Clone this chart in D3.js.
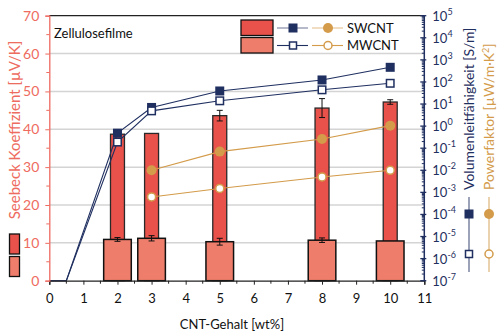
<!DOCTYPE html>
<html><head><meta charset="utf-8">
<script src="https://cdn.jsdelivr.net/npm/d3@7"></script>
<style>body{margin:0;background:#fff}svg{display:block}text{font-family:Lato,"Open Sans",sans-serif}</style>
</head><body>
<script>
// ---- data ----
const seebeckX = [2, 3, 5, 8, 10];
const swcntSeebeck = [38.7, 38.9, 43.6, 45.6, 47.2];
const swcntSeebeckErr = [0, 0, 1.4, 2.5, 0.6];
const mwcntSeebeck = [10.9, 11.2, 10.3, 10.7, 10.5];
const mwcntSeebeckErr = [0.5, 0.7, 0.9, 0.6, 0];
const condX = [0, 0.5, 2, 3, 5, 8, 10];
const swcntCond = [1e-7, 1e-7, 0.48, 7, 39, 123, 460];
const mwcntCond = [1e-7, 1e-7, 0.19, 4.9, 14, 44, 87];
const pfX = [3, 5, 8, 10];
const swcntPF = [0.010, 0.07, 0.26, 1.05];
const mwcntPF = [6.2e-4, 1.5e-3, 5e-3, 0.01];
const xTicks = [0,1,2,3,4,5,6,7,8,9,10,11];
const yLeftTicks = [0,10,20,30,40,50,60,70];
const yRightExps = [-7,-6,-5,-4,-3,-2,-1,0,1,2,3,4,5];
const seriesNames = ["SWCNT", "MWCNT"];

// ---- style ----
const W = 502, H = 335;
const m = {l: 49.3, r: 424.3, t: 15.7, b: 280.7};
const RED_AX = "#ee6b60", BAR1 = "#e8524a", BAR2 = "#ef7d6b", NAVY = "#1f2f60", ORANGE = "#d39b4a", GRID = "#d4d4d4";

const svg = d3.select("body").append("svg").attr("width", W).attr("height", H);
const x = d3.scaleLinear().domain([0, 11]).range([m.l, m.r]);
const y = d3.scaleLinear().domain([0, 70]).range([m.b, m.t]);
const yr = d3.scaleLog().domain([1e-7, 1e5]).range([m.b, m.t]);

// gridlines
svg.append("g").selectAll("line").data(yLeftTicks.filter(d => d > 0 && d < 70)).join("line")
  .attr("x1", m.l).attr("x2", m.r).attr("y1", d => y(d)).attr("y2", d => y(d))
  .attr("stroke", GRID).attr("stroke-width", 1.5);

// bars
const bw1 = x(0.41) - x(0), bw2 = x(0.81) - x(0);
svg.append("g").selectAll("rect").data(seebeckX).join("rect")
  .attr("x", (d) => x(d) - bw1/2).attr("width", bw1)
  .attr("y", (d,i) => y(swcntSeebeck[i])).attr("height", (d,i) => y(0) - y(swcntSeebeck[i]))
  .attr("fill", BAR1).attr("stroke", "#2a2a2a").attr("stroke-width", 1.3);
// error bars swcnt
const eb = svg.append("g").attr("stroke", "#111").attr("stroke-width", 1);
seebeckX.forEach((d,i) => {
  const e = swcntSeebeckErr[i]; if (e > 0) {
    eb.append("line").attr("x1", x(d)).attr("x2", x(d)).attr("y1", y(swcntSeebeck[i]-e)).attr("y2", y(swcntSeebeck[i]+e));
    [-1,1].forEach(s => eb.append("line").attr("x1", x(d)-3).attr("x2", x(d)+3).attr("y1", y(swcntSeebeck[i]+s*e)).attr("y2", y(swcntSeebeck[i]+s*e)));
  }
});
svg.append("g").selectAll("rect").data(seebeckX).join("rect")
  .attr("x", (d) => x(d) - bw2/2).attr("width", bw2)
  .attr("y", (d,i) => y(mwcntSeebeck[i])).attr("height", (d,i) => y(0) - y(mwcntSeebeck[i]))
  .attr("fill", BAR2).attr("stroke", "#111").attr("stroke-width", 1.5);
const eb2 = svg.append("g").attr("stroke", "#111").attr("stroke-width", 1);
seebeckX.forEach((d,i) => {
  const e = mwcntSeebeckErr[i]; if (e > 0) {
    eb2.append("line").attr("x1", x(d)).attr("x2", x(d)).attr("y1", y(mwcntSeebeck[i]-e)).attr("y2", y(mwcntSeebeck[i]+e));
    [-1,1].forEach(s => eb2.append("line").attr("x1", x(d)-3).attr("x2", x(d)+3).attr("y1", y(mwcntSeebeck[i]+s*e)).attr("y2", y(mwcntSeebeck[i]+s*e)));
  }
});

// lines
const line = d3.line();
function drawLine(xs, vs, color) {
  svg.append("path").attr("d", line(xs.map((d,i) => [x(d), yr(vs[i])])))
    .attr("fill", "none").attr("stroke", color).attr("stroke-width", 1.1);
}
drawLine(condX, swcntCond, NAVY);
drawLine(condX, mwcntCond, NAVY);
drawLine(pfX, swcntPF, ORANGE);
drawLine(pfX, mwcntPF, ORANGE);
// markers
const sq = 9;
svg.append("g").selectAll("rect").data(condX.slice(2)).join("rect")
  .attr("x", d => x(d) - sq/2).attr("y", (d,i) => yr(swcntCond[i+2]) - sq/2).attr("width", sq).attr("height", sq)
  .attr("fill", NAVY);
svg.append("g").selectAll("rect").data(condX.slice(2)).join("rect")
  .attr("x", d => x(d) - (sq-1.5)/2).attr("y", (d,i) => yr(mwcntCond[i+2]) - (sq-1.5)/2).attr("width", sq-1.5).attr("height", sq-1.5)
  .attr("fill", "#fff").attr("stroke", NAVY).attr("stroke-width", 1.5);
svg.append("g").selectAll("circle").data(pfX).join("circle")
  .attr("cx", d => x(d)).attr("cy", (d,i) => yr(swcntPF[i])).attr("r", 5).attr("fill", ORANGE);
svg.append("g").selectAll("circle").data(pfX).join("circle")
  .attr("cx", d => x(d)).attr("cy", (d,i) => yr(mwcntPF[i])).attr("r", 4).attr("fill", "#fff").attr("stroke", ORANGE).attr("stroke-width", 1.5);

// frame top
svg.append("line").attr("x1", m.l).attr("x2", m.r).attr("y1", m.t).attr("y2", m.t).attr("stroke", "#222").attr("stroke-width", 1.3);

// bottom axis
const gx = svg.append("g").attr("transform", `translate(0,${m.b})`)
  .call(d3.axisBottom(x).tickValues(xTicks).tickSize(4).tickPadding(9).tickFormat(d3.format("d")));
gx.select(".domain").attr("stroke", "#222").attr("stroke-width", 1.3);
gx.selectAll(".tick line").attr("stroke", "#222");
gx.selectAll("text").attr("font-size", 13).attr("fill", "#111").attr("font-family", "Lato");
svg.append("g").attr("transform", `translate(0,${m.b})`).selectAll("line")
  .data(d3.range(0.5, 11, 1)).join("line").attr("x1", d => x(d)).attr("x2", d => x(d)).attr("y1", 0).attr("y2", 3).attr("stroke", "#222");

// left axis
const gy = svg.append("g").attr("transform", `translate(${m.l},0)`)
  .call(d3.axisLeft(y).tickValues(yLeftTicks).tickSize(4).tickPadding(6));
gy.select(".domain").attr("stroke", RED_AX).attr("stroke-width", 1.3);
gy.selectAll(".tick line").attr("stroke", RED_AX);
gy.selectAll("text").attr("font-size", 14).attr("fill", RED_AX).attr("font-family", "Lato");
svg.append("g").attr("transform", `translate(${m.l},0)`).selectAll("line")
  .data(d3.range(5, 70, 10)).join("line").attr("x1", -3).attr("x2", 0).attr("y1", d => y(d)).attr("y2", d => y(d)).attr("stroke", RED_AX);

// right axis
const gr = svg.append("g").attr("transform", `translate(${m.r},0)`);
gr.append("line").attr("y1", m.t).attr("y2", m.b).attr("stroke", NAVY).attr("stroke-width", 1.5);
const minor = [];
yRightExps.slice(0, -1).forEach(e => { for (let k = 2; k <= 9; k++) minor.push(k * Math.pow(10, e)); });
gr.selectAll(".mn").data(minor).join("line").attr("x1", -2.5).attr("x2", 0).attr("y1", d => yr(d)).attr("y2", d => yr(d)).attr("stroke", NAVY);
gr.selectAll(".mj").data(yRightExps).join("line").attr("x1", -4).attr("x2", 2).attr("y1", e => yr(Math.pow(10, e))).attr("y2", e => yr(Math.pow(10, e))).attr("stroke", NAVY).attr("stroke-width", 1.3);
const rl = gr.selectAll(".lb").data(yRightExps).join("text")
  .attr("x", 8).attr("y", e => yr(Math.pow(10, e)) + 5).attr("font-size", 13).attr("fill", NAVY);
rl.append("tspan").text("10");
rl.append("tspan").attr("dy", -6).attr("font-size", 9).text(e => e);

// axis titles
svg.append("text").attr("x", 232).attr("y", 329).attr("text-anchor", "middle").attr("font-size", 13).attr("fill", "#111").text("CNT-Gehalt [wt%]");
svg.append("text").attr("transform", "translate(20,130) rotate(-90)").attr("text-anchor", "middle").attr("font-size", 15).attr("fill", RED_AX).text("Seebeck Koeffizient [µV/K]");
svg.append("text").attr("transform", "translate(474,190) rotate(-90)").attr("text-anchor", "start").attr("font-size", 14).attr("fill", NAVY).text("Volumenleitfähigkeit [S/m]");
const pft = svg.append("text").attr("transform", "translate(494,190) rotate(-90)").attr("text-anchor", "start").attr("font-size", 14).attr("fill", ORANGE);
pft.append("tspan").text("Powerfaktor [µW/m·K");
pft.append("tspan").attr("dy", -5).attr("font-size", 9).text("2");
pft.append("tspan").attr("dy", 5).text("]");

// title
svg.append("text").attr("x", 54).attr("y", 38).attr("font-size", 13).attr("fill", "#111").text("Zellulosefilme");

// in-plot legend
const legRows = [28, 45.5];
seriesNames.forEach((name, i) => {
  const cy = legRows[i];
  svg.append("rect").attr("x", 241).attr("y", cy - 8).attr("width", 32).attr("height", 15.5)
    .attr("fill", i === 0 ? BAR1 : BAR2).attr("stroke", "#111").attr("stroke-width", 1.3);
  svg.append("line").attr("x1", 277).attr("x2", 308).attr("y1", cy).attr("y2", cy).attr("stroke", NAVY).attr("stroke-width", 1.1).attr("opacity", i === 0 ? 0.6 : 1);
  if (i === 0) svg.append("rect").attr("x", 293 - sq/2).attr("y", cy - sq/2).attr("width", sq).attr("height", sq).attr("fill", NAVY);
  else svg.append("rect").attr("x", 293 - 3.5).attr("y", cy - 3.5).attr("width", 7).attr("height", 7).attr("fill", "#fff").attr("stroke", NAVY).attr("stroke-width", 1.5);
  svg.append("line").attr("x1", 312).attr("x2", 343).attr("y1", cy).attr("y2", cy).attr("stroke", ORANGE).attr("stroke-width", 1.1).attr("opacity", i === 0 ? 0.6 : 1);
  if (i === 0) svg.append("circle").attr("cx", 328).attr("cy", cy).attr("r", 5).attr("fill", ORANGE);
  else svg.append("circle").attr("cx", 328).attr("cy", cy).attr("r", 4).attr("fill", "#fff").attr("stroke", ORANGE).attr("stroke-width", 1.5);
  svg.append("text").attr("x", 347).attr("y", cy + 4.5).attr("font-size", 13).attr("fill", "#111").text(name);
});

// left-side legend boxes
[[234, BAR1], [256.5, BAR2]].forEach(([yy, c]) => {
  svg.append("rect").attr("x", 9.5).attr("y", yy).attr("width", 10).attr("height", 20).attr("fill", c).attr("stroke", "#111").attr("stroke-width", 1.3);
});
// right-side legend markers
[[469, NAVY, "sq"], [489, ORANGE, "ci"]].forEach(([xx, c, t]) => {
  svg.append("line").attr("x1", xx).attr("x2", xx).attr("y1", 197).attr("y2", 272).attr("stroke", c).attr("stroke-width", 1.1).attr("opacity", 0.8);
  if (t === "sq") {
    svg.append("rect").attr("x", xx - 4.5).attr("y", 214 - 4.5).attr("width", 9).attr("height", 9).attr("fill", c);
    svg.append("rect").attr("x", xx - 3.5).attr("y", 254 - 3.5).attr("width", 7).attr("height", 7).attr("fill", "#fff").attr("stroke", c).attr("stroke-width", 1.5);
  } else {
    svg.append("circle").attr("cx", xx).attr("cy", 214).attr("r", 5).attr("fill", c);
    svg.append("circle").attr("cx", xx).attr("cy", 254).attr("r", 4).attr("fill", "#fff").attr("stroke", c).attr("stroke-width", 1.5);
  }
});
</script>
</body></html>
